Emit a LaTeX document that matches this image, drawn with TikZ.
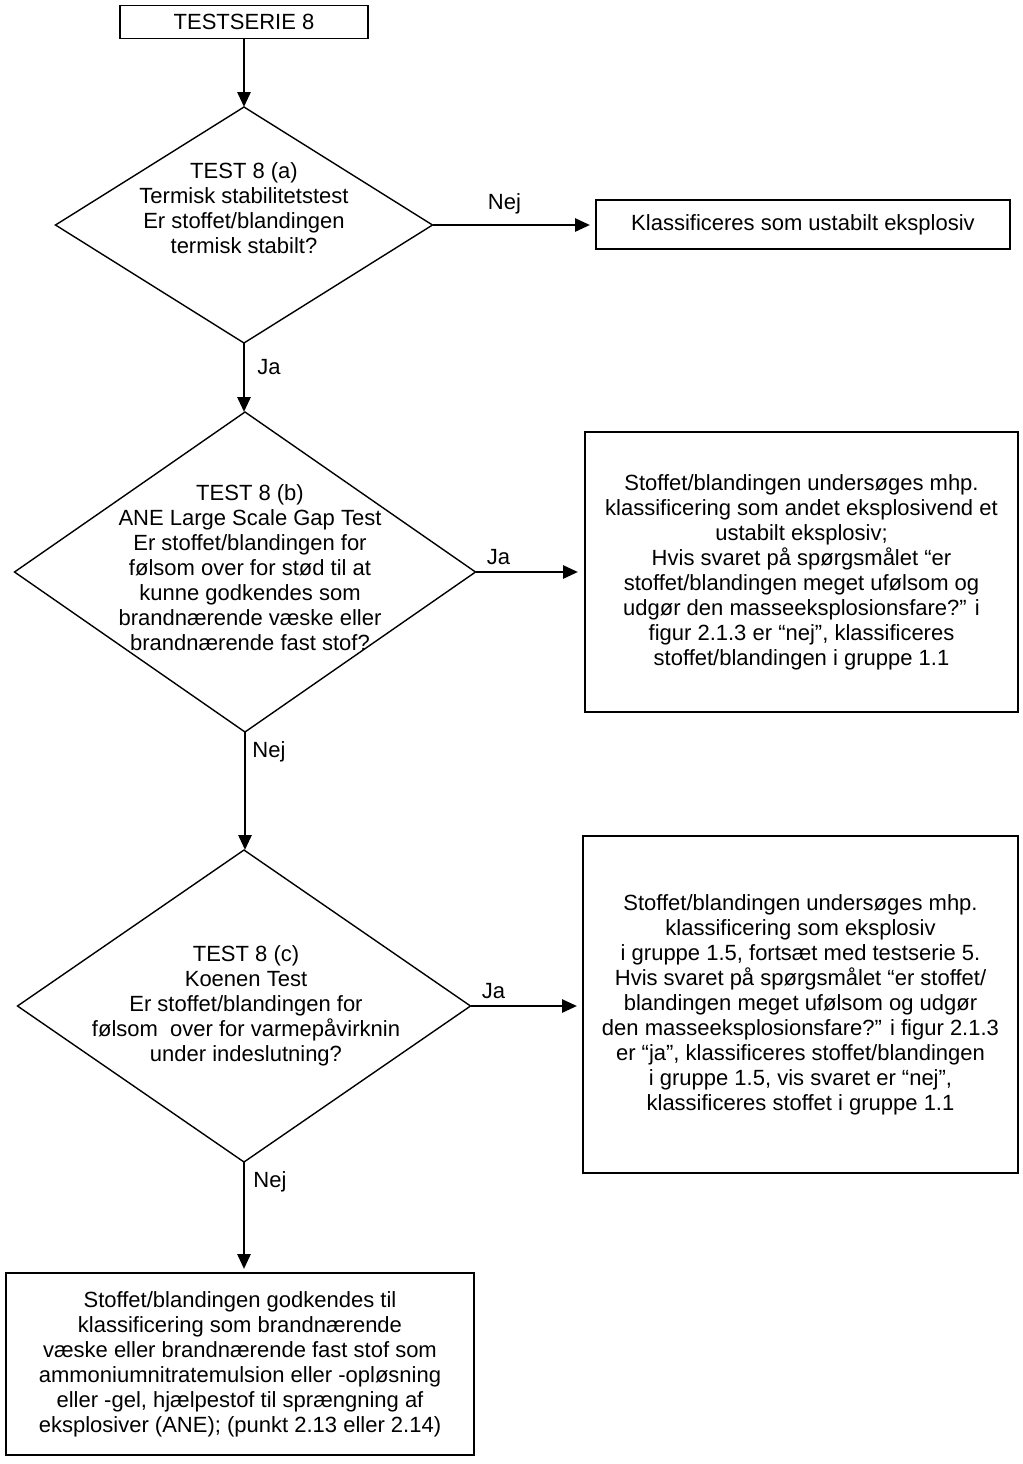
\documentclass[tikz,border=0pt]{standalone}
\usepackage{fontspec}
\setmainfont{Liberation Sans}
\usetikzlibrary{shapes.geometric,arrows.meta}
\begin{document}
\begin{tikzpicture}[x=0.5pt,y=-0.5pt,
  txt/.style={align=center,font=\fontsize{11}{12.5}\selectfont},
  box/.style={draw,line width=0.9pt,txt,inner sep=0pt,outer sep=0pt},
  dia/.style={draw,diamond,line width=0.7pt,inner sep=0pt,outer sep=0pt},
  lab/.style={font=\fontsize{11}{12.5}\selectfont,inner sep=0pt},
  arr/.style={line width=1.4pt,-{Triangle[length=7.5pt,width=6.5pt]}}]
\fill[white] (0,0) rectangle (1023,1464);
\useasboundingbox (0,0) rectangle (1023,1464);

\node[box,minimum width=124pt,minimum height=16.5pt] (ts) at (244,22) {TESTSERIE 8};

\node[dia,minimum width=188.5pt,minimum height=118pt] (da) at (244,225) {};
\node[txt] (tda) at (244,208) {TEST 8 (a)\\Termisk stabilitetstest\\Er stoffet/blandingen\\termisk stabilt?};

\node[box,minimum width=207pt,minimum height=24.5pt] (kl) at (803,224.5) {Klassificeres som ustabilt eksplosiv};

\node[dia,minimum width=230.5pt,minimum height=160pt] (db) at (245,572) {};
\node[txt] (tdb) at (250,568) {TEST 8 (b)\\ANE Large Scale Gap Test\\Er stoffet/blandingen for\\følsom over for stød til at\\kunne godkendes som\\brandnærende væske eller\\brandnærende fast stof?};

\node[box,minimum width=216.5pt,minimum height=140pt] (b2) at (801.5,572) {Stoffet/blandingen undersøges mhp.\\klassificering som andet eksplosivend et\\ustabilt eksplosiv;\\Hvis svaret på spørgsmålet “er\\stoffet/blandingen meget ufølsom og\\udgør den masseeksplosionsfare?” i\\figur 2.1.3 er “nej”, klassificeres\\stoffet/blandingen i gruppe 1.1};

\node[dia,minimum width=226.5pt,minimum height=156pt] (dc) at (244,1006) {};
\node[txt] (tdc) at (246,1006) {TEST 8 (c)\\Koenen Test\\Er stoffet/blandingen for\\følsom\ \ over for varmepåvirknin\\under indeslutning?};

\node[box,minimum width=217.5pt,minimum height=168.5pt] (b3) at (800.5,1004.5) {Stoffet/blandingen undersøges mhp.\\klassificering som eksplosiv\\i gruppe 1.5, fortsæt med testserie 5.\\Hvis svaret på spørgsmålet “er stoffet/\\blandingen meget ufølsom og udgør\\den masseeksplosionsfare?” i figur 2.1.3\\er “ja”, klassificeres stoffet/blandingen\\i gruppe 1.5, vis svaret er “nej”,\\klassificeres stoffet i gruppe 1.1};

\node[box,minimum width=234pt,minimum height=91pt] (b4) at (240,1364) {Stoffet/blandingen godkendes til\\klassificering som brandnærende\\væske eller brandnærende fast stof som\\ammoniumnitratemulsion eller -opløsning\\eller -gel, hjælpestof til sprængning af\\eksplosiver (ANE); (punkt 2.13 eller 2.14)};

\draw[arr] (ts.south) -- (ts.south |- da.north);
\draw[arr,shorten >=3pt] (da.east) -- node[lab,above=5pt,pos=0.44] {Nej} (da.east -| kl.west);
\draw[arr] (da.south) -- node[lab,anchor=west,pos=0.35,xshift=6pt] {Ja} (da.south |- db.north);
\draw[arr,shorten >=3.5pt] (db.east) -- node[lab,anchor=south west,pos=0,xshift=5pt,yshift=3pt] {Ja} (db.east -| b2.west);
\draw[arr] (db.south) -- node[lab,anchor=west,pos=0.17,xshift=3pt] {Nej} (db.south |- dc.north);
\draw[arr,shorten >=3pt] (dc.east) -- node[lab,anchor=south west,pos=0,xshift=5pt,yshift=3pt] {Ja} (dc.east -| b3.west);
\draw[arr,shorten >=2pt] (dc.south) -- node[lab,anchor=west,pos=0.18,xshift=4pt] {Nej} (dc.south |- b4.north);
\end{tikzpicture}
\end{document}
